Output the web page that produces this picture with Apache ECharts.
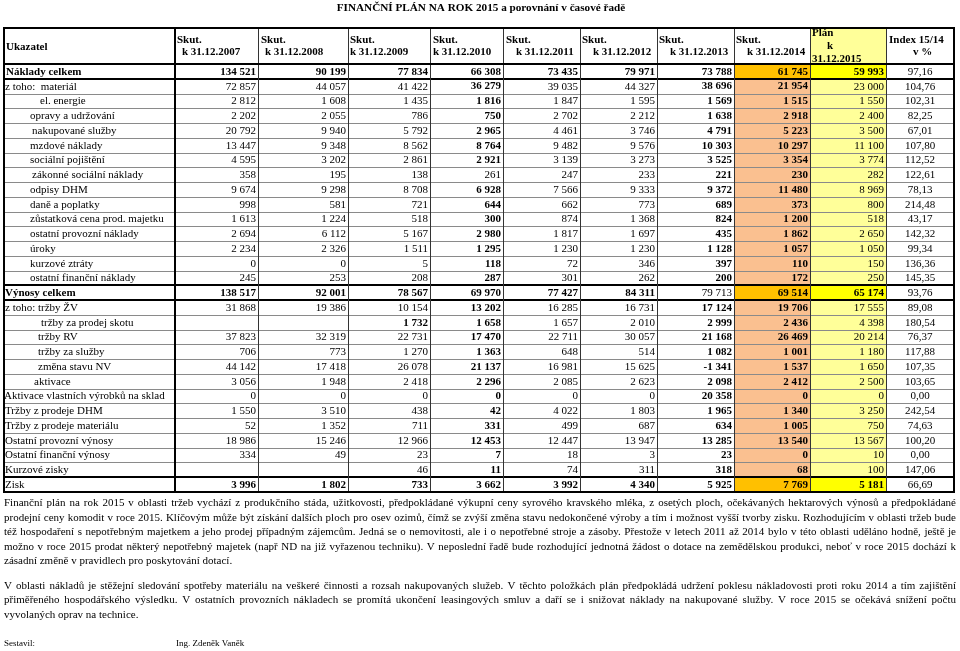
<!DOCTYPE html>
<html><head><meta charset="utf-8">
<script src="https://cdn.jsdelivr.net/npm/echarts@6/dist/echarts.min.js"></script>
<style>html,body{margin:0;padding:0;background:#fff}#c{width:960px;height:651px}</style>
</head><body><div id="c"></div>
<script>
// ---------------- DATA ----------------
const titleText = 'FINANČNÍ PLÁN NA ROK 2015 a porovnání v časové řadě';
const headerLines = [
  ['Ukazatel'],
  ['Skut.', 'k 31.12.2007'],
  ['Skut.', 'k 31.12.2008'],
  ['Skut.', 'k 31.12.2009'],
  ['Skut.', 'k 31.12.2010'],
  ['Skut.', 'k 31.12.2011'],
  ['Skut.', 'k 31.12.2012'],
  ['Skut.', 'k 31.12.2013'],
  ['Skut.', 'k 31.12.2014'],
  ['Plán', 'k', '31.12.2015'],
  ['Index 15/14', 'v %']
];
const rowLabels = [
  'Náklady celkem', 'z toho:  materiál', 'el. energie', 'opravy a udržování', 'nakupované služby',
  'mzdové náklady', 'sociální pojištění', 'zákonné sociální náklady', 'odpisy DHM', 'daně a poplatky',
  'zůstatková cena prod. majetku', 'ostatní provozní náklady', 'úroky', 'kurzové ztráty', 'ostatní finanční náklady',
  'Výnosy celkem', 'z toho: tržby ŽV', 'tržby za prodej skotu', 'tržby RV', 'tržby za služby',
  'změna stavu NV', 'aktivace', 'Aktivace vlastních výrobků na sklad', 'Tržby z prodeje DHM', 'Tržby z prodeje materiálu',
  'Ostatní provozní výnosy', 'Ostatní finanční výnosy', 'Kurzové zisky', 'Zisk'
];
const y2007 = [134521, 72857, 2812, 2202, 20792, 13447, 4595, 358, 9674, 998, 1613, 2694, 2234, 0, 245, 138517, 31868, null, 37823, 706, 44142, 3056, 0, 1550, 52, 18986, 334, null, 3996];
const y2008 = [90199, 44057, 1608, 2055, 9940, 9348, 3202, 195, 9298, 581, 1224, 6112, 2326, 0, 253, 92001, 19386, null, 32319, 773, 17418, 1948, 0, 3510, 1352, 15246, 49, null, 1802];
const y2009 = [77834, 41422, 1435, 786, 5792, 8562, 2861, 138, 8708, 721, 518, 5167, 1511, 5, 208, 78567, 10154, 1732, 22731, 1270, 26078, 2418, 0, 438, 711, 12966, 23, 46, 733];
const y2010 = [66308, 36279, 1816, 750, 2965, 8764, 2921, 261, 6928, 644, 300, 2980, 1295, 118, 287, 69970, 13202, 1658, 17470, 1363, 21137, 2296, 0, 42, 331, 12453, 7, 11, 3662];
const y2011 = [73435, 39035, 1847, 2702, 4461, 9482, 3139, 247, 7566, 662, 874, 1817, 1230, 72, 301, 77427, 16285, 1657, 22711, 648, 16981, 2085, 0, 4022, 499, 12447, 18, 74, 3992];
const y2012 = [79971, 44327, 1595, 2212, 3746, 9576, 3273, 233, 9333, 773, 1368, 1697, 1230, 346, 262, 84311, 16731, 2010, 30057, 514, 15625, 2623, 0, 1803, 687, 13947, 3, 311, 4340];
const y2013 = [73788, 38696, 1569, 1638, 4791, 10303, 3525, 221, 9372, 689, 824, 435, 1128, 397, 200, 79713, 17124, 2999, 21168, 1082, -1341, 2098, 20358, 1965, 634, 13285, 23, 318, 5925];
const y2014 = [61745, 21954, 1515, 2918, 5223, 10297, 3354, 230, 11480, 373, 1200, 1862, 1057, 110, 172, 69514, 19706, 2436, 26469, 1001, 1537, 2412, 0, 1340, 1005, 13540, 0, 68, 7769];
const plan2015 = [59993, 23000, 1550, 2400, 3500, 11100, 3774, 282, 8969, 800, 518, 2650, 1050, 150, 250, 65174, 17555, 4398, 20214, 1180, 1650, 2500, 0, 3250, 750, 13567, 10, 100, 5181];
const index1514 = [97.16, 104.76, 102.31, 82.25, 67.01, 107.80, 112.52, 122.61, 78.13, 214.48, 43.17, 142.32, 99.34, 136.36, 145.35, 93.76, 89.08, 180.54, 76.37, 117.88, 107.35, 103.65, 0.00, 242.54, 74.63, 100.20, 0.00, 147.06, 66.69];
const paragraph1 = [
  'Finanční plán na rok 2015 v oblasti tržeb vychází z produkčního stáda, užitkovosti, předpokládané výkupní ceny syrového kravského mléka, z osetých ploch, očekávaných hektarových výnosů a předpokládané',
  'prodejní ceny komodit v roce 2015. Klíčovým může být získání dalších ploch pro osev ozimů, čímž se zvýší změna stavu nedokončené výroby a tím i možnost vyšší tvorby zisku. Rozhodujícím v oblasti tržeb bude',
  'též hospodaření s nepotřebným majetkem a jeho prodej případným zájemcům. Jedná se o nemovitosti, ale i o nepotřebné stroje a zásoby. Přestože v letech 2011 až 2014 bylo v této oblasti uděláno hodně, ještě je',
  'možno v roce 2015 prodat některý nepotřebný majetek (např ND na již vyřazenou techniku). V neposlední řadě bude rozhodující jednotná žádost o dotace na zemědělskou produkci, neboť v roce 2015 dochází k',
  'zásadní změně v pravidlech pro poskytování dotací.'
];
const paragraph2 = [
  'V oblasti nákladů je stěžejní sledování spotřeby materiálu na veškeré činnosti a rozsah nakupovaných služeb. V těchto položkách plán předpokládá udržení poklesu nákladovosti proti roku 2014 a tím zajištění',
  'přiměřeného hospodářského výsledku. V ostatních provozních nákladech se promítá ukončení leasingových smluv a daří se i snižovat náklady na nakupované služby. V roce 2015 se očekává snížení počtu',
  'vyvolaných oprav na technice.'
];
const signLabel = 'Sestavil:';
const signName = 'Ing. Zdeněk Vaněk';

// ---------------- LAYOUT / STYLE ----------------
const colEdges = [4, 175, 258, 348, 430, 503, 580, 657, 734, 810, 886, 954];
const labelIndent = [2,1,36,26,28,26,26,28,26,26,26,26,26,26,26,1,1,37,34,34,34,30,0,1,1,1,1,1,1];
const headerOffsets = [[2],[2,7],[3,7],[2,2],[3,3],[3,13],[2,13],[2,13],[2,13],[2,17,2],[3,27]];
const headerLineY = { 1: [19], 2: [12, 24.5], 3: [5, 18.5, 31] };
const SERIF = '"Liberation Serif","Times New Roman",serif';
const FS = 11;
const totalRows = new Set([0, 15, 28]);
const thickBottom = new Set([0, 14, 15, 27, 28]);

const valueCols = [y2007, y2008, y2009, y2010, y2011, y2012, y2013, y2014, plan2015];

function fmtInt(v) {
  if (v === null || v === undefined) return '';
  const s = String(Math.abs(v)).replace(/\B(?=(\d{3})+(?!\d))/g, ' ');
  return (v < 0 ? '-' : '') + s;
}
function fmtIdx(v) { return v.toFixed(2).replace('.', ','); }

function isBold(c, r) {
  if (c === 0) return r === 0 || r === 15;
  if (c === 4) return r !== 7;
  if (c === 7) return r !== 15;
  if (c === 8) return true;
  if (c === 10) return false;
  return totalRows.has(r) || (c === 3 && r === 17);
}
function cellFill(c, r) {
  if (c === 8) return totalRows.has(r) ? '#FFC000' : '#FAC090';
  if (c === 9) return totalRows.has(r) ? '#FFFF00' : '#FFFF99';
  return '#FFFFFF';
}

// build cell lists
const bodyCells = [];
rowLabels.forEach((lab, r) => {
  for (let c = 0; c <= 10; c++) {
    let text;
    if (c === 0) text = lab;
    else if (c === 10) text = fmtIdx(index1514[r]);
    else text = fmtInt(valueCols[c - 1][r]);
    bodyCells.push({ value: [c, lab], c, r, text });
  }
});
const headerCells = headerLines.map((lines, c) => ({ value: [c, 'h'], c, lines }));

function px(v) { return Math.round(v); }

function cellBox(api) {
  const c = api.value(0);
  const catIdx = api.value(1);
  const x0 = px(api.coord([colEdges[c], catIdx])[0]);
  const x1 = px(api.coord([colEdges[c + 1], catIdx])[0]);
  const yc = api.coord([colEdges[c], catIdx])[1];
  const h = api.size([0, 1])[1];
  return { c, x0, x1, y0: px(yc - h / 2), y1: px(yc + h / 2), yc };
}

function renderBodyFill(params, api) {
  const b = cellBox(api);
  const cell = bodyCells[params.dataIndex];
  const r = cell.r, c = b.c;
  const children = [{
    type: 'rect', shape: { x: b.x0, y: b.y0, width: b.x1 - b.x0, height: b.y1 - b.y0 },
    style: { fill: cellFill(c, r) }, silent: true
  }];
  let tx, align;
  if (c === 0) { tx = b.x0 + labelIndent[r]; align = 'left'; }
  else if (c === 10) { tx = (b.x0 + b.x1) / 2; align = 'center'; }
  else { tx = b.x1 - 2; align = 'right'; }
  if (cell.text) children.push({
    type: 'text', x: tx, y: b.yc + 0.5,
    style: { text: cell.text, font: (isBold(c, r) ? 'bold ' : '') + FS + 'px ' + SERIF,
      fill: '#000', align: align, verticalAlign: 'middle' }, silent: true
  });
  return { type: 'group', children };
}

function hline(x0, x1, y, w, color) {
  const yy = w % 2 === 1 ? y + 0.5 : y;
  return { type: 'line', shape: { x1: x0, y1: yy, x2: x1, y2: yy }, style: { stroke: color, lineWidth: w }, silent: true };
}
function vline(x, y0, y1, w, color) {
  const xx = w % 2 === 1 ? x + 0.5 : x;
  return { type: 'line', shape: { x1: xx, y1: y0, x2: xx, y2: y1 }, style: { stroke: color, lineWidth: w }, silent: true };
}

function renderBodyLines(params, api) {
  const b = cellBox(api);
  const r = bodyCells[params.dataIndex].r, c = b.c;
  const ch = [];
  const tb = thickBottom.has(r);
  ch.push(hline(b.x0 - 1, b.x1 + 1, b.y1, tb ? 2 : 1, tb ? '#000' : '#8a8a8a'));
  const wr = (c === 0 || c === 10) ? 2 : 1;
  ch.push(vline(b.x1, b.y0 - 1, b.y1 + 1, wr, wr === 2 ? '#000' : '#333'));
  if (c === 0) ch.push(vline(b.x0, b.y0 - 1, b.y1 + 1, 2, '#000'));
  return { type: 'group', children: ch };
}

function renderHeaderFill(params, api) {
  const b = cellBox(api);
  const cell = headerCells[params.dataIndex];
  const c = b.c;
  const children = [{
    type: 'rect', shape: { x: b.x0, y: b.y0, width: b.x1 - b.x0, height: b.y1 - b.y0 },
    style: { fill: c === 9 ? '#FFFF99' : '#FFFFFF' }, silent: true
  }];
  const ys = headerLineY[cell.lines.length];
  cell.lines.forEach((t, i) => {
    children.push({
      type: 'text', x: b.x0 + headerOffsets[c][i], y: b.y0 + ys[i],
      style: { text: t, font: 'bold ' + FS + 'px ' + SERIF, fill: '#000', align: 'left', verticalAlign: 'middle' },
      silent: true
    });
  });
  return { type: 'group', children };
}
function renderHeaderLines(params, api) {
  const b = cellBox(api);
  const c = b.c;
  const ch = [];
  ch.push(hline(b.x0 - 1, b.x1 + 1, b.y0, 2, '#000'));
  ch.push(hline(b.x0 - 1, b.x1 + 1, b.y1, 2, '#000'));
  const wr = (c === 0 || c === 10) ? 2 : 1;
  ch.push(vline(b.x1, b.y0, b.y1, wr, wr === 2 ? '#000' : '#333'));
  if (c === 0) ch.push(vline(b.x0, b.y0, b.y1, 2, '#000'));
  return { type: 'group', children: ch };
}

// ---------- justified paragraph text ----------
const measureCtx = document.createElement('canvas').getContext('2d');
function textLine(str, x0, x1, y, font, justify) {
  measureCtx.font = font;
  const words = str.split(' ');
  const widths = words.map(w => measureCtx.measureText(w).width);
  const total = widths.reduce((a, b) => a + b, 0);
  const space = measureCtx.measureText(' ').width;
  const gap = (justify && words.length > 1) ? (x1 - x0 - total) / (words.length - 1) : space;
  const els = [];
  let x = x0;
  words.forEach((w, i) => {
    els.push({ type: 'text', x: x, y: y, silent: true,
      style: { text: w, font: font, fill: '#000', align: 'left', verticalAlign: 'middle' } });
    x += widths[i] + gap;
  });
  return els;
}
const PFONT = '11px ' + SERIF;
let graphics = [{
  type: 'text', x: 481, y: 8, silent: true,
  style: { text: titleText, font: 'bold 11.2px ' + SERIF, fill: '#000', align: 'center', verticalAlign: 'middle' }
}];
const p1y = [503.5, 518, 532.5, 547, 561.5];
paragraph1.forEach((l, i) => { graphics = graphics.concat(textLine(l, 4, 956, p1y[i], PFONT, i < paragraph1.length - 1)); });
const p2y = [586, 600.5, 615];
paragraph2.forEach((l, i) => { graphics = graphics.concat(textLine(l, 4, 956, p2y[i], PFONT, i < paragraph2.length - 1)); });
graphics.push({ type: 'text', x: 4, y: 644, silent: true, style: { text: signLabel, font: '9px ' + SERIF, fill: '#000', verticalAlign: 'middle' } });
graphics.push({ type: 'text', x: 176, y: 644, silent: true, style: { text: signName, font: '9px ' + SERIF, fill: '#000', verticalAlign: 'middle' } });

const chart = echarts.init(document.getElementById('c'), null, { renderer: 'canvas' });
chart.setOption({
  animation: false,
  backgroundColor: '#fff',
  grid: [
    { left: 4, top: 28, width: 950, height: 36 },
    { left: 4, top: 64, width: 950, height: 428 }
  ],
  xAxis: [
    { type: 'value', gridIndex: 0, min: 4, max: 954, show: false },
    { type: 'value', gridIndex: 1, min: 4, max: 954, show: false }
  ],
  yAxis: [
    { type: 'category', gridIndex: 0, data: ['h'], show: false },
    { type: 'category', gridIndex: 1, data: rowLabels, inverse: true, show: false }
  ],
  series: [
    { type: 'custom', xAxisIndex: 0, yAxisIndex: 0, z: 1, renderItem: renderHeaderFill, data: headerCells, encode: { x: 0, y: 1 } },
    { type: 'custom', xAxisIndex: 1, yAxisIndex: 1, z: 1, renderItem: renderBodyFill, data: bodyCells, encode: { x: 0, y: 1 } },
    { type: 'custom', xAxisIndex: 1, yAxisIndex: 1, z: 3, renderItem: renderBodyLines, data: bodyCells, encode: { x: 0, y: 1 } },
    { type: 'custom', xAxisIndex: 0, yAxisIndex: 0, z: 4, renderItem: renderHeaderLines, data: headerCells, encode: { x: 0, y: 1 } }
  ],
  graphic: graphics
});
</script>
</body></html>
